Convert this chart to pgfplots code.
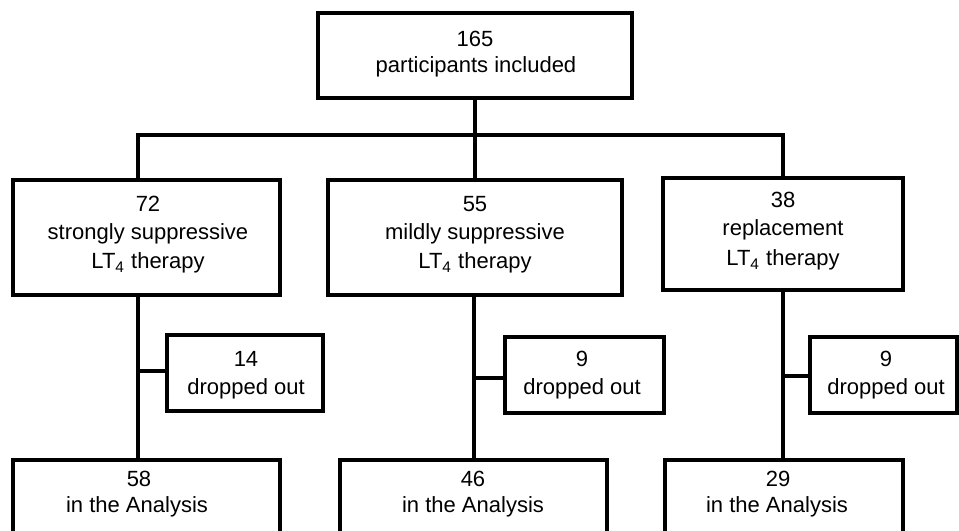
\documentclass[border=0pt]{standalone}
\usepackage{pgfplots}
\pgfplotsset{compat=1.18}
\usepackage{fontspec}
\setmainfont{Liberation Sans}
\tikzset{tl/.style={anchor=base, inner sep=0pt, text=black},
  ln/.style={draw=black, solid, line width=1.6bp, line join=miter, line cap=rect, mark=none}}
\begin{document}
\begin{tikzpicture}[font=\fontsize{11bp}{13bp}\selectfont]
\begin{axis}[
  x=0.5bp, y=0.5bp, y dir=reverse,
  xmin=0, xmax=959, ymin=0, ymax=531,
  hide axis, clip=true,
]
% boxes
\addplot[ln] coordinates {(318,13)(632,13)(632,98)(318,98)(318,13)};
\addplot[ln] coordinates {(13,180)(280,180)(280,295)(13,295)(13,180)};
\addplot[ln] coordinates {(328,180)(622,180)(622,295)(328,295)(328,180)};
\addplot[ln] coordinates {(663,178)(903,178)(903,290)(663,290)(663,178)};
\addplot[ln] coordinates {(167,335)(323,335)(323,411)(167,411)(167,335)};
\addplot[ln] coordinates {(505,337)(664,337)(664,413)(505,413)(505,337)};
\addplot[ln] coordinates {(810,337)(957,337)(957,413)(810,413)(810,337)};
\addplot[ln] coordinates {(13,560)(13,460)(280,460)(280,560)};
\addplot[ln] coordinates {(340,560)(340,460)(607,460)(607,560)};
\addplot[ln] coordinates {(665,560)(665,460)(903,460)(903,560)};
% connectors
\addplot[ln] coordinates {(475,98)(475,180)};
\addplot[ln] coordinates {(138,180)(138,135)(783,135)(783,178)};
\addplot[ln] coordinates {(138,295)(138,460)};
\addplot[ln] coordinates {(138,371)(167,371)};
\addplot[ln] coordinates {(474,295)(474,460)};
\addplot[ln] coordinates {(474,378)(505,378)};
\addplot[ln] coordinates {(783,290)(783,460)};
\addplot[ln] coordinates {(783,376)(810,376)};
% texts
\node[tl] at (axis cs:475,47) {165};
\node[tl] at (axis cs:476,73) {participants included};
\node[tl] at (axis cs:148,212) {72};
\node[tl] at (axis cs:148,240) {strongly suppressive};
\node[tl] at (axis cs:148,269) {LT\textsubscript{4} therapy};
\node[tl] at (axis cs:475,212) {55};
\node[tl] at (axis cs:475,240) {mildly suppressive};
\node[tl] at (axis cs:475,269) {LT\textsubscript{4} therapy};
\node[tl] at (axis cs:783,208) {38};
\node[tl] at (axis cs:783,236) {replacement};
\node[tl] at (axis cs:783,266) {LT\textsubscript{4} therapy};
\node[tl] at (axis cs:246,367) {14};
\node[tl] at (axis cs:246,395) {dropped out};
\node[tl] at (axis cs:582,367) {9};
\node[tl] at (axis cs:582,395) {dropped out};
\node[tl] at (axis cs:886,367) {9};
\node[tl] at (axis cs:886,395) {dropped out};
\node[tl] at (axis cs:139,487) {58};
\node[tl] at (axis cs:137,513) {in the Analysis};
\node[tl] at (axis cs:473,487) {46};
\node[tl] at (axis cs:473,513) {in the Analysis};
\node[tl] at (axis cs:778,487) {29};
\node[tl] at (axis cs:777,513) {in the Analysis};
\end{axis}
\pgfresetboundingbox
\path[use as bounding box] (current axis.south west) rectangle (current axis.north east);
\end{tikzpicture}
\end{document}
